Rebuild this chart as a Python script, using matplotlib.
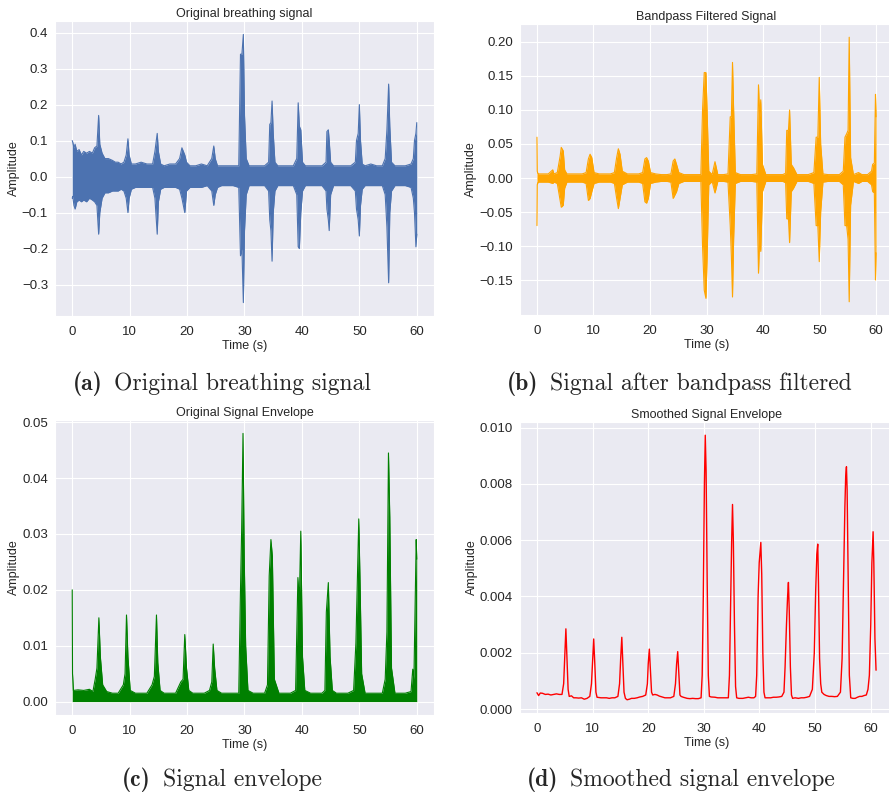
import numpy as np
import matplotlib
matplotlib.use("Agg")
import matplotlib.pyplot as plt
import seaborn as sns

# ============================================================================
# Values
# ============================================================================
# (a) original breathing signal: upper / lower envelope of the dense trace
a_time = [
    0.0, 0.1, 0.3, 0.5, 0.8, 1.2, 1.6, 2.0, 2.5, 3.0,
    3.5, 3.9, 4.3, 4.6, 4.8, 5.2, 5.7, 6.3, 7.0, 7.5,
    8.0, 8.5, 9.0, 9.4, 9.7, 9.9, 10.3, 11.0, 12.0, 13.0,
    14.0, 14.4, 14.8, 15.0, 15.4, 16.0, 17.0, 18.0, 18.7, 19.1,
    19.6, 19.9, 20.5, 21.5, 22.5, 23.5, 24.3, 24.65, 24.9, 25.3,
    26.0, 27.0, 28.0, 29.0, 29.3, 29.55, 29.8, 30.0, 30.3, 30.8,
    31.5, 32.5, 33.5, 34.2, 34.4, 34.6, 34.8, 35.0, 35.3, 35.8,
    36.5, 37.5, 38.5, 39.1, 39.35, 39.55, 39.8, 40.1, 40.6, 41.5,
    42.5, 43.5, 44.2, 44.35, 44.6, 44.75, 45.0, 45.5, 46.5, 47.5,
    48.5, 49.3, 49.5, 49.8, 50.0, 50.2, 50.5, 51.0, 52.0, 53.0,
    54.0, 54.5, 54.8, 55.1, 55.3, 55.6, 56.2, 57.0, 58.0, 59.0,
    59.4, 59.6, 59.85, 60.0,
]
a_upper = [
    0.10, 0.095, 0.08, 0.09, 0.07, 0.075, 0.06, 0.07, 0.065, 0.07,
    0.065, 0.08, 0.085, 0.17, 0.09, 0.065, 0.05, 0.05, 0.045, 0.04,
    0.04, 0.035, 0.04, 0.06, 0.105, 0.06, 0.035, 0.035, 0.04, 0.035,
    0.035, 0.07, 0.12, 0.07, 0.035, 0.03, 0.035, 0.035, 0.05, 0.08,
    0.06, 0.04, 0.03, 0.03, 0.035, 0.03, 0.05, 0.085, 0.05, 0.03,
    0.03, 0.03, 0.03, 0.03, 0.34, 0.34, 0.395, 0.17, 0.05, 0.03,
    0.03, 0.03, 0.03, 0.04, 0.145, 0.15, 0.21, 0.12, 0.04, 0.03,
    0.03, 0.03, 0.03, 0.05, 0.205, 0.14, 0.13, 0.04, 0.03, 0.03,
    0.03, 0.03, 0.04, 0.125, 0.13, 0.10, 0.04, 0.03, 0.03, 0.03,
    0.03, 0.04, 0.10, 0.12, 0.20, 0.10, 0.035, 0.03, 0.035, 0.03,
    0.03, 0.05, 0.13, 0.257, 0.14, 0.04, 0.03, 0.03, 0.03, 0.035,
    0.05, 0.10, 0.12, 0.15,
]
a_lower = [
    -0.06, -0.055, -0.08, -0.09, -0.07, -0.065, -0.07, -0.065, -0.07, -0.06,
    -0.065, -0.07, -0.08, -0.16, -0.10, -0.06, -0.045, -0.045, -0.04, -0.04,
    -0.04, -0.035, -0.04, -0.06, -0.10, -0.06, -0.035, -0.03, -0.03, -0.03,
    -0.03, -0.06, -0.16, -0.07, -0.035, -0.03, -0.03, -0.03, -0.035, -0.06,
    -0.10, -0.04, -0.03, -0.03, -0.03, -0.025, -0.04, -0.08, -0.05, -0.03,
    -0.025, -0.025, -0.025, -0.03, -0.22, -0.20, -0.35, -0.15, -0.05, -0.025,
    -0.025, -0.025, -0.025, -0.04, -0.12, -0.15, -0.235, -0.10, -0.04, -0.025,
    -0.025, -0.025, -0.025, -0.05, -0.195, -0.20, -0.10, -0.04, -0.025, -0.025,
    -0.025, -0.025, -0.04, -0.09, -0.12, -0.15, -0.05, -0.025, -0.025, -0.025,
    -0.025, -0.04, -0.09, -0.12, -0.165, -0.08, -0.035, -0.025, -0.025, -0.025,
    -0.025, -0.05, -0.14, -0.295, -0.10, -0.04, -0.025, -0.025, -0.025, -0.03,
    -0.06, -0.10, -0.195, -0.16,
]

# (b) bandpass filtered signal: upper / lower envelope
b_time = [
    0.0, 0.05, 0.15, 0.3, 1.0, 2.0, 2.8, 3.0, 3.6, 4.1,
    4.3, 4.65, 4.9, 5.3, 6.0, 7.0, 8.0, 8.7, 9.1, 9.4,
    9.7, 10.1, 11.0, 12.0, 13.0, 13.7, 14.1, 14.4, 14.7, 15.1,
    16.0, 17.0, 18.0, 18.7, 19.1, 19.4, 19.7, 20.1, 21.0, 22.0,
    23.0, 23.7, 24.1, 24.4, 24.7, 25.1, 26.0, 27.0, 28.0, 29.0,
    29.3, 29.6, 29.9, 30.1, 30.4, 31.0, 31.5, 32.0, 33.0, 33.8,
    34.2, 34.4, 34.6, 34.8, 35.1, 36.0, 37.0, 38.0, 38.9, 39.2,
    39.4, 39.6, 39.9, 40.5, 41.5, 42.5, 43.5, 44.0, 44.2, 44.5,
    44.7, 45.0, 45.4, 46.0, 47.0, 48.0, 49.0, 49.4, 49.7, 49.95,
    50.2, 50.6, 51.5, 52.5, 53.5, 54.2, 54.5, 54.8, 55.05, 55.25,
    55.5, 56.0, 56.9, 57.5, 58.5, 59.2, 59.4, 59.7, 59.9, 60.0,
]
b_upper = [
    0.06, 0.01, 0.007, 0.006, 0.006, 0.006, 0.012, 0.006, 0.008, 0.032,
    0.045, 0.04, 0.012, 0.006, 0.006, 0.006, 0.006, 0.008, 0.028, 0.035,
    0.03, 0.008, 0.006, 0.006, 0.006, 0.008, 0.03, 0.043, 0.035, 0.01,
    0.006, 0.006, 0.006, 0.008, 0.028, 0.03, 0.025, 0.008, 0.006, 0.005,
    0.005, 0.006, 0.025, 0.028, 0.02, 0.008, 0.005, 0.005, 0.005, 0.005,
    0.10, 0.155, 0.155, 0.10, 0.01, 0.005, 0.024, 0.005, 0.005, 0.006,
    0.09, 0.09, 0.17, 0.10, 0.008, 0.005, 0.005, 0.005, 0.006, 0.137,
    0.09, 0.115, 0.02, 0.005, 0.005, 0.005, 0.005, 0.007, 0.07, 0.07,
    0.10, 0.02, 0.015, 0.005, 0.005, 0.005, 0.008, 0.06, 0.06, 0.148,
    0.05, 0.006, 0.005, 0.005, 0.005, 0.01, 0.06, 0.065, 0.07, 0.207,
    0.03, 0.005, 0.008, 0.005, 0.005, 0.01, 0.02, 0.022, 0.123, 0.09,
]
b_lower = [
    -0.07, -0.01, -0.007, -0.006, -0.006, -0.006, -0.008, -0.006, -0.008, -0.033,
    -0.043, -0.04, -0.015, -0.006, -0.006, -0.006, -0.006, -0.008, -0.033, -0.03,
    -0.02, -0.008, -0.006, -0.006, -0.006, -0.008, -0.03, -0.045, -0.03, -0.01,
    -0.006, -0.006, -0.006, -0.008, -0.035, -0.037, -0.03, -0.008, -0.006, -0.005,
    -0.005, -0.006, -0.03, -0.025, -0.02, -0.008, -0.005, -0.005, -0.005, -0.005,
    -0.10, -0.165, -0.177, -0.12, -0.01, -0.005, -0.022, -0.005, -0.005, -0.006,
    -0.07, -0.115, -0.175, -0.09, -0.008, -0.005, -0.005, -0.005, -0.006, -0.14,
    -0.09, -0.108, -0.02, -0.005, -0.005, -0.005, -0.005, -0.007, -0.06, -0.06,
    -0.095, -0.02, -0.015, -0.005, -0.005, -0.005, -0.008, -0.07, -0.07, -0.123,
    -0.05, -0.006, -0.005, -0.005, -0.005, -0.01, -0.07, -0.07, -0.09, -0.182,
    -0.04, -0.005, -0.008, -0.005, -0.005, -0.01, -0.02, -0.022, -0.15, -0.11,
]

# (c) signal envelope: upper edge of the dense trace (lower edge is 0)
c_time = [
    0.0, 0.05, 0.2, 1.0, 2.0, 3.0, 3.6, 4.0, 4.3, 4.64,
    4.9, 5.3, 6.0, 7.0, 8.0, 8.9, 9.2, 9.45, 9.7, 10.1,
    11.0, 12.0, 13.0, 13.9, 14.3, 14.67, 14.9, 15.3, 16.0, 17.0,
    18.0, 18.9, 19.3, 19.6, 19.9, 20.3, 21.0, 22.0, 23.0, 23.9,
    24.3, 24.55, 24.8, 25.2, 26.0, 27.0, 28.0, 29.0, 29.3, 29.5,
    29.74, 29.95, 30.2, 30.6, 31.5, 32.5, 33.5, 34.0, 34.3, 34.6,
    34.85, 35.2, 36.0, 37.0, 38.0, 38.9, 39.3, 39.55, 39.8, 40.1,
    40.5, 41.5, 42.5, 43.5, 44.0, 44.25, 44.6, 44.9, 45.3, 46.0,
    47.0, 48.0, 49.0, 49.4, 49.9, 50.1, 50.4, 51.0, 52.0, 53.0,
    54.0, 54.5, 54.8, 55.07, 55.3, 55.6, 56.2, 57.0, 58.0, 59.0,
    59.3, 59.5, 59.9, 60.0,
]
c_upper = [
    0.020, 0.005, 0.002, 0.0021, 0.002, 0.0022, 0.0018, 0.004, 0.006, 0.015,
    0.008, 0.003, 0.0018, 0.0015, 0.0015, 0.003, 0.005, 0.0155, 0.008, 0.002,
    0.0015, 0.0015, 0.0015, 0.003, 0.0045, 0.0155, 0.007, 0.002, 0.0015, 0.0015,
    0.0015, 0.0035, 0.004, 0.012, 0.006, 0.002, 0.0015, 0.0015, 0.0015, 0.002,
    0.0035, 0.0103, 0.006, 0.002, 0.0015, 0.0015, 0.0015, 0.0015, 0.02, 0.0305,
    0.048, 0.026, 0.01, 0.002, 0.0015, 0.0015, 0.0015, 0.003, 0.0225, 0.029,
    0.026, 0.004, 0.0015, 0.0015, 0.0015, 0.002, 0.0222, 0.018, 0.0305, 0.008,
    0.002, 0.0015, 0.0015, 0.0015, 0.002, 0.016, 0.0213, 0.008, 0.002, 0.0015,
    0.0015, 0.0015, 0.002, 0.0105, 0.0327, 0.0225, 0.005, 0.0015, 0.0015, 0.0015,
    0.0015, 0.004, 0.0125, 0.0445, 0.033, 0.006, 0.0015, 0.0015, 0.0015, 0.0018,
    0.0058, 0.004, 0.029, 0.0255,
]

# (d) smoothed envelope (single line)
d_time = [
    0.0, 0.3, 0.6, 1.0, 1.5, 2.0, 2.5, 3.0, 3.5, 4.0,
    4.5, 4.8, 5.0, 5.2, 5.4, 5.6, 5.8, 6.2, 6.6, 7.0,
    7.5, 8.0, 8.5, 9.0, 9.5, 9.8, 10.0, 10.2, 10.4, 10.6,
    10.8, 11.5, 12.0, 12.5, 13.0, 13.5, 14.0, 14.55, 14.85, 15.05,
    15.25, 15.45, 15.65, 15.9, 16.2, 16.6, 17.0, 17.5, 18.0, 18.5,
    19.0, 19.55, 19.85, 20.0, 20.2, 20.4, 20.6, 20.8, 21.2, 21.6,
    22.0, 22.5, 23.0, 23.5, 24.0, 24.6, 24.9, 25.1, 25.3, 25.5,
    25.7, 25.9, 26.3, 27.0, 27.5, 28.0, 28.5, 29.0, 29.5, 29.7,
    29.9, 30.1, 30.25, 30.4, 30.6, 30.8, 31.0, 31.3, 32.0, 32.5,
    33.0, 33.5, 34.0, 34.4, 34.6, 34.8, 35.0, 35.15, 35.3, 35.5,
    35.7, 35.9, 36.3, 37.0, 37.5, 38.0, 38.5, 39.0, 39.3, 39.5,
    39.75, 39.95, 40.1, 40.24, 40.4, 40.6, 40.8, 41.0, 41.5, 42.0,
    42.5, 43.0, 43.5, 44.0, 44.4, 44.6, 44.85, 45.05, 45.2, 45.35,
    45.55, 45.75, 45.95, 46.4, 47.0, 47.5, 48.0, 48.5, 49.0, 49.5,
    49.85, 50.1, 50.3, 50.47, 50.6, 50.8, 51.0, 51.2, 51.6, 52.0,
    52.5, 53.0, 53.5, 54.0, 54.55, 54.85, 55.1, 55.35, 55.5, 55.63,
    55.75, 55.95, 56.15, 56.4, 56.8, 57.2, 57.6, 58.0, 58.4, 58.8,
    59.2, 59.5, 59.75, 60.0, 60.2, 60.42, 60.55, 60.75, 60.95,
]
d_value = [
    0.00058, 0.00048, 0.00057, 0.00056, 0.00052, 0.00053, 0.0005, 0.00052, 0.00054, 0.00052,
    0.00052, 0.0009, 0.0019, 0.00285, 0.0018, 0.0007, 0.00045, 0.00047, 0.0004, 0.0004,
    0.00039, 0.0004, 0.00035, 0.00038, 0.00045, 0.0009, 0.0017, 0.00249, 0.0016, 0.0006,
    0.00042, 0.0004, 0.0004, 0.0004, 0.00038, 0.0004, 0.0004, 0.00045, 0.0009, 0.0018,
    0.00255, 0.0016, 0.0006, 0.00038, 0.00033, 0.00035, 0.00038, 0.00038, 0.0004, 0.00043,
    0.00045, 0.0005, 0.0009, 0.0016, 0.00213, 0.0014, 0.0006, 0.0005, 0.00052, 0.0005,
    0.00046, 0.00043, 0.0004, 0.0004, 0.0004, 0.00045, 0.0009, 0.0016, 0.00204, 0.0013,
    0.0005, 0.00045, 0.00042, 0.00038, 0.00037, 0.00038, 0.00037, 0.00037, 0.0004, 0.0012,
    0.004, 0.008, 0.00973, 0.0085, 0.0045, 0.0012, 0.00045, 0.00043, 0.00042, 0.0004,
    0.0004, 0.0004, 0.0004, 0.0004, 0.0012, 0.0035, 0.006, 0.00727, 0.006, 0.003,
    0.0008, 0.0004, 0.00038, 0.00038, 0.0004, 0.00042, 0.0004, 0.0004, 0.00045, 0.0012,
    0.004, 0.0052, 0.0056, 0.00592, 0.0048, 0.002, 0.0006, 0.0004, 0.0004, 0.0004,
    0.00042, 0.00042, 0.00043, 0.00045, 0.0006, 0.0015, 0.003, 0.004, 0.0045, 0.0035,
    0.0015, 0.0005, 0.00038, 0.0004, 0.00038, 0.0004, 0.0004, 0.00042, 0.00045, 0.0007,
    0.002, 0.0042, 0.0055, 0.00586, 0.0045, 0.0018, 0.0009, 0.0006, 0.00052, 0.00048,
    0.00045, 0.00045, 0.00044, 0.00045, 0.0006, 0.0018, 0.0045, 0.0072, 0.0083, 0.00861,
    0.0078, 0.0045, 0.0012, 0.0004, 0.00038, 0.00038, 0.00042, 0.00045, 0.00045, 0.00048,
    0.0005, 0.0007, 0.0012, 0.003, 0.0052, 0.0063, 0.0052, 0.0025, 0.00138,
]

titles = ["Original breathing signal", "Bandpass Filtered Signal",
          "Original Signal Envelope", "Smoothed Signal Envelope"]
cap_labels = ["(a)", "(b)", "(c)", "(d)"]
cap_texts = ["Original breathing signal", "Signal after bandpass filtered",
             "Signal envelope", "Smoothed signal envelope"]
a_yticks = [-0.3, -0.2, -0.1, 0.0, 0.1, 0.2, 0.3, 0.4]
b_yticks = [-0.15, -0.10, -0.05, 0.00, 0.05, 0.10, 0.15, 0.20]
c_yticks = [0.00, 0.01, 0.02, 0.03, 0.04, 0.05]
d_yticks = [0.000, 0.002, 0.004, 0.006, 0.008, 0.010]
x_ticks = [0, 10, 20, 30, 40, 50, 60]

# ============================================================================
# Style
# ============================================================================
sns.set_style("darkgrid")
plt.rcParams["font.family"] = ["Liberation Sans", "DejaVu Sans"]

W, H = 889, 794
fig = plt.figure(figsize=(W / 100, H / 100), dpi=100)


def px_axes(left, top, right, bottom):
    return fig.add_axes([left / W, 1 - bottom / H, (right - left) / W, (bottom - top) / H])


def minus_fmt(decimals):
    def f(v, pos):
        return f"{v:.{decimals}f}".replace("-", "\u2212")
    return matplotlib.ticker.FuncFormatter(f)


ax_a = px_axes(55, 21, 434, 316)
ax_b = px_axes(520, 24, 893, 315)
ax_c = px_axes(55, 420, 434, 715)
ax_d = px_axes(520, 422, 893, 713)

# ------------------------------------------------------------------------
# Panels
# ------------------------------------------------------------------------
blue = "#4C72B0"
ax_a.fill_between(a_time, a_lower, a_upper, color=blue, lw=0)
ax_a.plot(a_time, a_upper, color=blue, lw=0.8)
ax_a.plot(a_time, a_lower, color=blue, lw=0.8)

ax_b.fill_between(b_time, b_lower, b_upper, color="orange", lw=0)
ax_b.plot(b_time, b_upper, color="orange", lw=0.8)
ax_b.plot(b_time, b_lower, color="orange", lw=0.8)

ax_c.fill_between(c_time, 0, c_upper, color="green", lw=0)
ax_c.plot(c_time, c_upper, color="green", lw=0.8)

ax_d.plot(d_time, d_value, color="red", lw=1.0)

yticks = [a_yticks, b_yticks, c_yticks, d_yticks]
decs = [1, 2, 2, 3]
for ax, title, yt, dec in zip([ax_a, ax_b, ax_c, ax_d], titles, yticks, decs):
    ax.set_title(title, fontsize=9, pad=3)
    ax.set_xlabel("Time (s)", fontsize=9, labelpad=1)
    ax.set_ylabel("Amplitude", fontsize=9, labelpad=1.5)
    ax.set_xticks(x_ticks)
    ax.set_yticks(yt)
    ax.yaxis.set_major_formatter(minus_fmt(dec))
    ax.tick_params(axis="x", labelsize=9.5, pad=4)
    ax.tick_params(axis="y", labelsize=9.5, pad=1.5)
    ax.margins(x=0.05, y=0.05)

# ------------------------------------------------------------------------
# Sub-figure captions: bold label + roman text, centred as one line
# ------------------------------------------------------------------------
cap_size = 17
cap_pos = [(222, 390), (679, 390), (222, 786), (681, 786)]
renderer = fig.canvas.get_renderer()
gap = 0.5 * cap_size * 100 / 72
for lab, txt, (cx, cy) in zip(cap_labels, cap_texts, cap_pos):
    tb = fig.text(0, 0, lab, family="cmb10", fontsize=cap_size, va="baseline")
    tr = fig.text(0, 0, txt, family="cmr10", fontsize=cap_size, va="baseline")
    wb = tb.get_window_extent(renderer).width
    wr = tr.get_window_extent(renderer).width
    x0 = cx - (wb + gap + wr) / 2
    tb.set_position((x0 / W, 1 - cy / H))
    tr.set_position(((x0 + wb + gap) / W, 1 - cy / H))

fig.savefig("out.png", dpi=100)
